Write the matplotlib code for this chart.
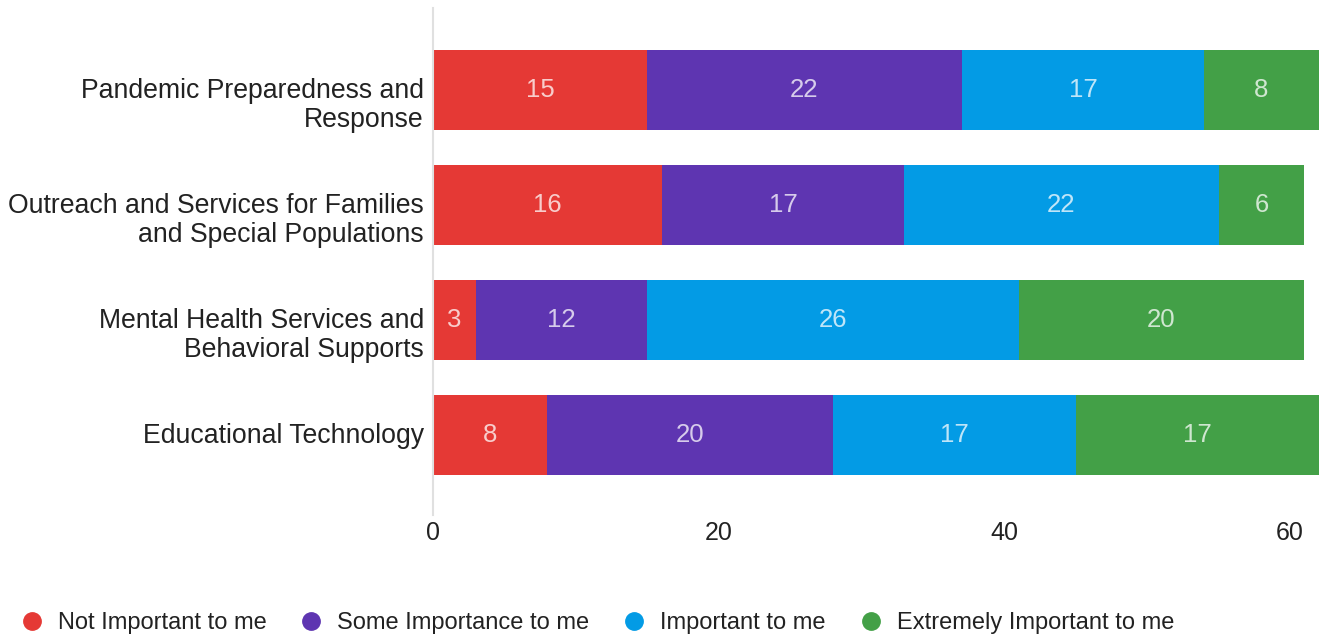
import matplotlib.pyplot as plt
import matplotlib.transforms as mtransforms
from matplotlib.lines import Line2D

plt.rcParams['font.family'] = ['Liberation Sans', 'DejaVu Sans']

categories = ['Pandemic Preparedness and\nResponse',
              'Outreach and Services for Families\nand Special Populations',
              'Mental Health Services and\nBehavioral Supports',
              'Educational Technology']
series_names = ['Not Important to me', 'Some Importance to me',
                'Important to me', 'Extremely Important to me']
not_important = [15, 16, 3, 8]
some_importance = [22, 17, 12, 20]
important = [17, 22, 26, 17]
extremely_important = [8, 6, 20, 17]
colors = ['#E53935', '#5E35B1', '#039BE5', '#43A047']

series = [not_important, some_importance, important, extremely_important]

fig = plt.figure(figsize=(13.23, 6.34), dpi=100)
ax = fig.add_axes([433 / 1323, 1 - 515 / 634, (1318.6 - 433) / 1323, 507 / 634])

y = range(len(categories))
left = [0] * len(categories)
for vals, name, c in zip(series, series_names, colors):
    ax.barh(y, vals, left=left, height=0.696, color=c, label=name)
    for i, v in enumerate(vals):
        ax.text(left[i] + v / 2, i, str(v), ha='center', va='center',
                color='white', alpha=0.75, fontsize=18.5)
    left = [l + v for l, v in zip(left, vals)]

ax.set_xlim(0, 62)
ax.set_ylim(3.696, -0.713)
ax.set_yticks(list(y))
ax.set_yticklabels([])
# category labels: first line sits on the bar centre, extra lines go below
base = mtransforms.blended_transform_factory(ax.transAxes, ax.transData)
for i, cat in enumerate(categories):
    extra = cat.count('\n')
    off = mtransforms.ScaledTranslation(-9 / 100, (-8.3 - 28.6 * extra) / 100,
                                        fig.dpi_scale_trans)
    ax.text(0, i, cat, transform=base + off, ha='right', va='baseline', ma='right',
            fontsize=19.2, color='#222222', linespacing=1.14)
ax.set_xticks([0, 20, 40, 60])
ax.tick_params(axis='x', labelsize=18, labelcolor='#222222', length=0, pad=4)
ax.tick_params(axis='y', length=0)
for s in ['top', 'right', 'bottom']:
    ax.spines[s].set_visible(False)
ax.spines['left'].set_color('#e0e0e0')
ax.spines['left'].set_linewidth(1.5)

handles = [Line2D([], [], marker='o', linestyle='', markersize=12.5, color=c)
           for c in colors]
fig.legend(handles, series_names, loc='lower left', bbox_to_anchor=(-0.001, -0.034),
           ncol=4, frameon=False, fontsize=17, handlelength=1.0,
           handletextpad=0.6, columnspacing=1.4, labelcolor='#222222')

fig.savefig('out.png', dpi=100)
